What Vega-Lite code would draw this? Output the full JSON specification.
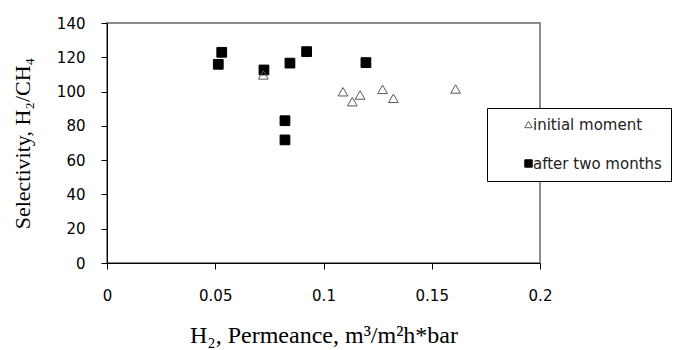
{
  "$schema": "https://vega.github.io/schema/vega-lite/v6.json",
  "width": 433,
  "height": 240,
  "autosize": "none",
  "padding": {"left": 107, "top": 23, "right": 159, "bottom": 87},
  "background": "white",
  "config": {
    "view": {"stroke": "#8c8c8c", "strokeWidth": 2},
    "axis": {
      "grid": false,
      "domainColor": "black",
      "tickColor": "black",
      "labelColor": "black",
      "titleColor": "black",
      "labelFont": "DejaVu Sans",
      "labelFontSize": 15,
      "titleFont": "Liberation Serif",
      "titleFontWeight": "normal",
      "labelFlush": false,
      "labelOverlap": false,
      "tickSize": 6
    }
  },
  "data": {
    "values": [
      {"series": "after two months", "permeance": 0.0514, "selectivity": 115.9},
      {"series": "after two months", "permeance": 0.053, "selectivity": 122.9},
      {"series": "after two months", "permeance": 0.0725, "selectivity": 112.6},
      {"series": "after two months", "permeance": 0.0822, "selectivity": 83.0},
      {"series": "after two months", "permeance": 0.0822, "selectivity": 71.8},
      {"series": "after two months", "permeance": 0.0845, "selectivity": 116.6},
      {"series": "after two months", "permeance": 0.0922, "selectivity": 123.3},
      {"series": "after two months", "permeance": 0.1196, "selectivity": 116.9},
      {"series": "initial moment", "permeance": 0.0722, "selectivity": 109.7},
      {"series": "initial moment", "permeance": 0.109, "selectivity": 99.9},
      {"series": "initial moment", "permeance": 0.1133, "selectivity": 94.1},
      {"series": "initial moment", "permeance": 0.1169, "selectivity": 98.0},
      {"series": "initial moment", "permeance": 0.1273, "selectivity": 101.3},
      {"series": "initial moment", "permeance": 0.1323, "selectivity": 96.1},
      {"series": "initial moment", "permeance": 0.161, "selectivity": 101.5}
    ]
  },
  "mark": {"type": "point", "filled": true, "strokeWidth": 1, "opacity": 1, "size": 95},
  "encoding": {
    "x": {
      "field": "permeance",
      "type": "quantitative",
      "scale": {"domain": [0, 0.2], "nice": false, "zero": false},
      "axis": {
        "values": [0, 0.05, 0.1, 0.15, 0.2],
        "format": "~g",
        "labelPadding": 19,
        "title": "H₂, Permeance, m³/m²h*bar",
        "titleFontSize": 24,
        "titlePadding": 20
      }
    },
    "y": {
      "field": "selectivity",
      "type": "quantitative",
      "scale": {"domain": [0, 140], "nice": false},
      "axis": {
        "values": [0, 20, 40, 60, 80, 100, 120, 140],
        "labelPadding": 16,
        "title": "Selectivity, H₂/CH₄",
        "titleFontSize": 22,
        "titlePadding": 22
      }
    },
    "shape": {
      "field": "series",
      "type": "nominal",
      "scale": {"domain": ["initial moment", "after two months"], "range": ["triangle-up", "square"]},
      "legend": {
        "title": null,
        "orient": "none",
        "legendX": 380,
        "legendY": 85,
        "padding": 9,
        "symbolOffset": 25,
        "labelOffset": -3,
        "rowPadding": 23,
        "symbolSize": 55,
        "symbolStrokeWidth": 1,
        "labelFont": "DejaVu Sans",
        "labelFontSize": 15,
        "labelColor": "#222222",
        "strokeColor": "black",
        "fillColor": "white",
        "labelLimit": 300
      }
    },
    "fill": {
      "field": "series",
      "type": "nominal",
      "scale": {"domain": ["initial moment", "after two months"], "range": ["transparent", "black"]},
      "legend": {"title": null}
    },
    "stroke": {
      "field": "series",
      "type": "nominal",
      "scale": {"domain": ["initial moment", "after two months"], "range": ["#5a5a5a", "black"]},
      "legend": {"title": null}
    }
  }
}
